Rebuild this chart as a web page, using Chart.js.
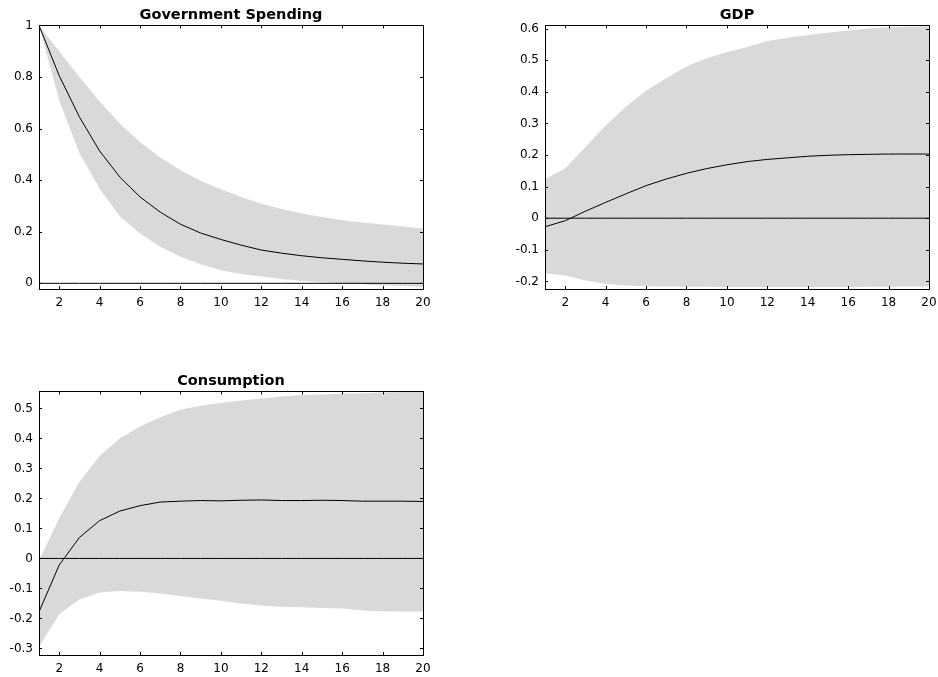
<!DOCTYPE html>
<html>
<head>
<meta charset="utf-8">
<script src="https://cdn.jsdelivr.net/npm/chart.js@4/dist/chart.umd.min.js"></script>
<style>
  body { margin: 0; background: #fff; }
  canvas { position: absolute; }
</style>
</head>
<body>
<canvas id="govChart" width="432" height="310" style="left:0px;top:0px"></canvas>
<canvas id="gdpChart" width="432" height="310" style="left:506px;top:0px"></canvas>
<canvas id="consChart" width="432" height="310" style="left:0px;top:366px"></canvas>
<script>
const horizon = [1, 2, 3, 4, 5, 6, 7, 8, 9, 10, 11, 12, 13, 14, 15, 16, 17, 18, 19, 20]
const xTicks = [2, 4, 6, 8, 10, 12, 14, 16, 18, 20]

// Government Spending
const govMedian = [1, 0.805, 0.645, 0.513, 0.412, 0.335, 0.276, 0.229, 0.195, 0.170, 0.148, 0.129, 0.117, 0.107, 0.099, 0.093, 0.087, 0.082, 0.078, 0.075]
const govUpper = [1, 0.9, 0.8, 0.705, 0.62, 0.548, 0.488, 0.438, 0.398, 0.365, 0.335, 0.309, 0.288, 0.271, 0.257, 0.245, 0.236, 0.228, 0.22, 0.213]
const govLower = [1, 0.71, 0.505, 0.367, 0.26, 0.193, 0.142, 0.103, 0.074, 0.051, 0.036, 0.026, 0.017, 0.009, 0.004, 0.0, -0.004, -0.007, -0.01, -0.013]
const govYTicks = [0, 0.2, 0.4, 0.6, 0.8, 1]

// GDP
const gdpMedian = [-0.027, -0.008, 0.022, 0.05, 0.077, 0.103, 0.124, 0.142, 0.157, 0.169, 0.179, 0.186, 0.191, 0.196, 0.199, 0.201, 0.202, 0.203, 0.203, 0.203]
const gdpUpper = [0.124, 0.157, 0.225, 0.293, 0.353, 0.403, 0.443, 0.48, 0.506, 0.525, 0.542, 0.561, 0.571, 0.58, 0.587, 0.594, 0.6, 0.604, 0.606, 0.607]
const gdpLower = [-0.174, -0.181, -0.197, -0.208, -0.213, -0.215, -0.216, -0.217, -0.217, -0.218, -0.218, -0.218, -0.218, -0.218, -0.218, -0.218, -0.217, -0.217, -0.216, -0.216]
const gdpYTicks = [-0.2, -0.1, 0, 0.1, 0.2, 0.3, 0.4, 0.5, 0.6]

// Consumption
const consMedian = [-0.178, -0.022, 0.07, 0.126, 0.158, 0.176, 0.188, 0.191, 0.193, 0.192, 0.194, 0.195, 0.193, 0.193, 0.194, 0.193, 0.191, 0.191, 0.191, 0.19]
const consUpper = [-0.008, 0.134, 0.256, 0.342, 0.401, 0.44, 0.471, 0.496, 0.509, 0.518, 0.527, 0.533, 0.54, 0.545, 0.547, 0.549, 0.551, 0.553, 0.555, 0.556]
const consLower = [-0.295, -0.186, -0.137, -0.114, -0.109, -0.111, -0.117, -0.125, -0.134, -0.141, -0.15, -0.157, -0.161, -0.163, -0.165, -0.167, -0.174, -0.176, -0.177, -0.178]
const consYTicks = [-0.3, -0.2, -0.1, 0, 0.1, 0.2, 0.3, 0.4, 0.5]

const bandColor = '#d9d9d9'
const fontFamily = '"DejaVu Sans", sans-serif'

// box around the plot area, with inward ticks on all four sides
const boxPlugin = {
  id: 'box',
  afterDatasetsDraw (chart) {
    const { ctx, chartArea: a, scales } = chart
    const tick = 3
    ctx.save()
    ctx.strokeStyle = '#000'
    ctx.lineWidth = 1
    ctx.beginPath()
    scales.x.ticks.forEach(t => {
      const px = Math.round(scales.x.getPixelForValue(t.value)) + 0.5
      ctx.moveTo(px, a.bottom); ctx.lineTo(px, a.bottom - tick)
      ctx.moveTo(px, a.top); ctx.lineTo(px, a.top + tick)
    })
    scales.y.ticks.forEach(t => {
      const py = Math.round(scales.y.getPixelForValue(t.value)) + 0.5
      ctx.moveTo(a.left, py); ctx.lineTo(a.left + tick, py)
      ctx.moveTo(a.right, py); ctx.lineTo(a.right - tick, py)
    })
    ctx.stroke()
    ctx.strokeRect(Math.round(a.left) + 0.5, Math.round(a.top) + 0.5, Math.round(a.right - a.left), Math.round(a.bottom - a.top))
    ctx.restore()
  }
}

const toPoints = values => horizon.map((h, i) => ({ x: h, y: values[i] }))

function makeChart (canvasId, title, median, upper, lower, yTicks, yMin, yMax) {
  const ctx = document.getElementById(canvasId).getContext('2d')
  return new Chart(ctx, {
    type: 'line',
    data: {
      datasets: [
        { data: toPoints(median), borderColor: '#000', borderWidth: 1, pointRadius: 0, tension: 0, fill: false },
        { data: toPoints(horizon.map(() => 0)), borderColor: '#000', borderWidth: 1, pointRadius: 0, fill: false },
        { data: toPoints(upper), borderWidth: 0, borderColor: 'rgba(0,0,0,0)', backgroundColor: bandColor, pointRadius: 0, fill: '+1' },
        { data: toPoints(lower), borderWidth: 0, borderColor: 'rgba(0,0,0,0)', pointRadius: 0, fill: false }
      ]
    },
    options: {
      responsive: false,
      animation: false,
      layout: { padding: { left: 0, right: 9, top: 0, bottom: 0 } },
      plugins: {
        legend: { display: false },
        tooltip: { enabled: false },
        title: {
          display: true,
          text: title,
          fullSize: false,
          color: '#000',
          font: { family: fontFamily, size: 14.5, weight: 'bold', lineHeight: 1.2 },
          padding: { top: 7, bottom: 1 }
        }
      },
      scales: {
        x: {
          type: 'linear',
          min: 1,
          max: 20,
          grid: { display: false, drawTicks: false },
          border: { display: false },
          afterBuildTicks: scale => { scale.ticks = xTicks.map(v => ({ value: v })) },
          afterFit: scale => {
            scale.height = 21
            scale.paddingLeft = 0
            scale.paddingRight = 0
          },
          ticks: { color: '#000', padding: 7, maxRotation: 0, font: { family: fontFamily, size: 12 } }
        },
        y: {
          min: yMin,
          max: yMax,
          grid: { display: false, drawTicks: false },
          border: { display: false },
          afterBuildTicks: scale => { scale.ticks = yTicks.map(v => ({ value: v })) },
          afterFit: scale => { scale.width = 39 },
          ticks: {
            color: '#000',
            padding: 6,
            font: { family: fontFamily, size: 12 },
            callback: v => String(+v.toFixed(1))
          }
        }
      }
    },
    plugins: [boxPlugin]
  })
}

makeChart('govChart', 'Government Spending', govMedian, govUpper, govLower, govYTicks, -0.022, 1)
makeChart('gdpChart', 'GDP', gdpMedian, gdpUpper, gdpLower, gdpYTicks, -0.224, 0.61)
makeChart('consChart', 'Consumption', consMedian, consUpper, consLower, consYTicks, -0.322, 0.557)
</script>
</body>
</html>
